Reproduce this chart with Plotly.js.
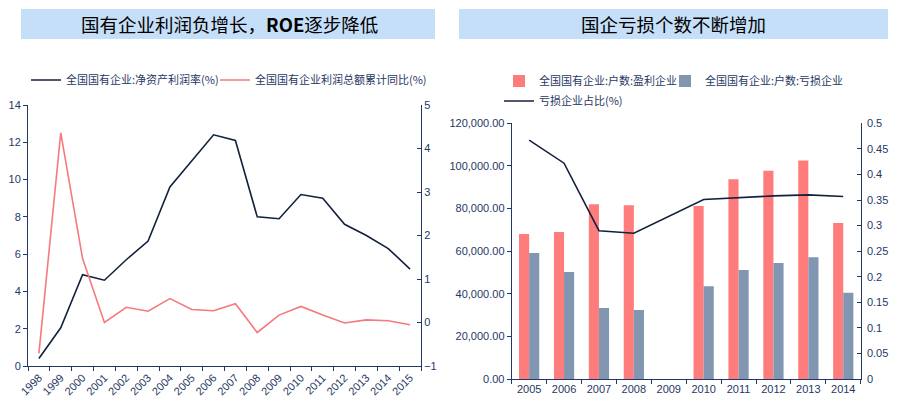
<!DOCTYPE html>
<html>
<head>
<meta charset="utf-8">
<script src="https://cdn.plot.ly/plotly-3.0.1.min.js"></script>
<style>html,body{margin:0;padding:0;background:#fff;}#chart{width:902px;height:399px;}</style>
</head>
<body>
<div id="chart"></div>
<script>
// ---- Left chart data ----
const yearsL = ['1998','1999','2000','2001','2002','2003','2004','2005','2006','2007','2008','2009','2010','2011','2012','2013','2014','2015'];
const roe = [0.4, 2.05, 4.9, 4.6, 5.7, 6.7, 9.6, 11.0, 12.4, 12.1, 8.0, 7.9, 9.2, 9.0, 7.6, 7.0, 6.3, 5.2];
const profitYoY = [-0.71, 4.36, 1.47, 0.0, 0.35, 0.26, 0.55, 0.30, 0.27, 0.43, -0.23, 0.17, 0.37, 0.17, -0.01, 0.06, 0.04, -0.05];
const nameRoe = '全国国有企业:净资产利润率(%)';
const nameYoY = '全国国有企业利润总额累计同比(%)';

// ---- Right chart data ----
const yearsR = ['2005','2006','2007','2008','2009','2010','2011','2012','2013','2014'];
const profitable = [68000, 69000, 82000, 81500, null, 81200, 93800, 97700, 102500, 73200];
const lossMaking = [59100, 50200, 33300, 32400, null, 43500, 51100, 54400, 57100, 40500];
const lossShare = [0.467, 0.422, 0.290, 0.285, null, 0.351, 0.355, 0.358, 0.360, 0.357];
const nameProf = '全国国有企业:户数:盈利企业';
const nameLoss = '全国国有企业:户数:亏损企业';
const nameShare = '亏损企业占比(%)';

const title1 = '国有企业利润负增长，<b>ROE</b>逐步降低';
const title2 = '国企亏损个数不断增加';

const W = 902, H = 399;
const px = x => x / W;
const py = y => (H - y) / H;

const navy = '#1F3864';
const tickFont = {family: 'Liberation Sans, Arial, sans-serif', size: 11, color: navy};
const legFont = {family: 'Noto Sans CJK SC, sans-serif', size: 11, color: navy};

const traces = [
  {x: yearsL, y: roe, name: nameRoe, type: 'scatter', mode: 'lines',
   line: {color: '#14213D', width: 1.6}, xaxis: 'x', yaxis: 'y', legend: 'legend'},
  {x: yearsL, y: profitYoY, name: nameYoY, type: 'scatter', mode: 'lines',
   line: {color: '#F47A7E', width: 1.6}, xaxis: 'x', yaxis: 'y2', legend: 'legend4'},
  {x: yearsR, y: profitable, name: nameProf, type: 'bar',
   marker: {color: '#FF7C7C'}, xaxis: 'x2', yaxis: 'y3', legend: 'legend2'},
  {x: yearsR, y: lossMaking, name: nameLoss, type: 'bar',
   marker: {color: '#8096B1'}, xaxis: 'x2', yaxis: 'y3', legend: 'legend5'},
  {x: yearsR, y: lossShare, name: nameShare, type: 'scatter', mode: 'lines', connectgaps: true,
   line: {color: '#14213D', width: 1.6}, xaxis: 'x2', yaxis: 'y4', legend: 'legend3'}
];

const axisCommon = {showgrid: false, zeroline: false, showline: true, linecolor: navy, linewidth: 1,
  tickcolor: navy, ticklen: 4, tickfont: tickFont, fixedrange: true};

function leg(xpix, ypix) {
  return {orientation: 'h', x: px(xpix), y: py(ypix), xanchor: 'left', yanchor: 'middle', font: legFont,
    bgcolor: 'rgba(0,0,0,0)', itemwidth: 30};
}

const layout = {
  width: W, height: H,
  margin: {l: 0, r: 0, t: 0, b: 0},
  paper_bgcolor: '#fff', plot_bgcolor: 'rgba(0,0,0,0)',
  barmode: 'group', bargap: 0.42, bargroupgap: 0,
  xaxis: Object.assign({}, axisCommon, {domain: [px(28), px(421)], anchor: 'y', type: 'category',
    range: [-0.5, yearsL.length - 0.5], tickson: 'boundaries', ticks: 'outside', tickangle: -45}),
  yaxis: Object.assign({}, axisCommon, {domain: [py(366), py(105)], anchor: 'x', range: [0, 14], dtick: 2,
    ticks: 'outside'}),
  yaxis2: Object.assign({}, axisCommon, {overlaying: 'y', side: 'right', anchor: 'x', range: [-1, 5], dtick: 1,
    ticks: 'inside'}),
  xaxis2: Object.assign({}, axisCommon, {domain: [px(511.7), px(860.7)], anchor: 'y3', type: 'category',
    range: [-0.5, yearsR.length - 0.5], tickson: 'boundaries', ticks: 'outside', tickangle: 0}),
  yaxis3: Object.assign({}, axisCommon, {domain: [py(379), py(123.3)], anchor: 'x2', range: [0, 120000],
    dtick: 20000, tickformat: ',.2f', ticks: 'outside'}),
  yaxis4: Object.assign({}, axisCommon, {overlaying: 'y3', side: 'right', anchor: 'x2', range: [0, 0.5],
    dtick: 0.05, ticks: 'inside', ticklabelstandoff: 3}),
  showlegend: true,
  legend: leg(26, 80),
  legend4: leg(215, 80),
  legend2: leg(499, 81),
  legend5: leg(665, 81),
  legend3: leg(499, 101),
  shapes: [
    {type: 'rect', xref: 'paper', yref: 'paper', x0: px(21), x1: px(435), y0: py(39), y1: py(9),
     fillcolor: '#C6DFF8', line: {width: 0}, layer: 'below'},
    {type: 'rect', xref: 'paper', yref: 'paper', x0: px(459), x1: px(888), y0: py(39), y1: py(9),
     fillcolor: '#C6DFF8', line: {width: 0}, layer: 'below'}
  ],
  annotations: [
    {text: title1, xref: 'paper', yref: 'paper', x: px(229), y: py(24), xanchor: 'center', yanchor: 'middle',
     showarrow: false, font: {family: 'Noto Sans CJK SC, sans-serif', size: 18.5, color: '#000'}},
    {text: title2, xref: 'paper', yref: 'paper', x: px(673), y: py(24), xanchor: 'center', yanchor: 'middle',
     showarrow: false, font: {family: 'Noto Sans CJK SC, sans-serif', size: 18.5, color: '#000'}}
  ]
};

Plotly.newPlot('chart', traces, layout, {staticPlot: true, displayModeBar: false});
</script>
</body>
</html>
